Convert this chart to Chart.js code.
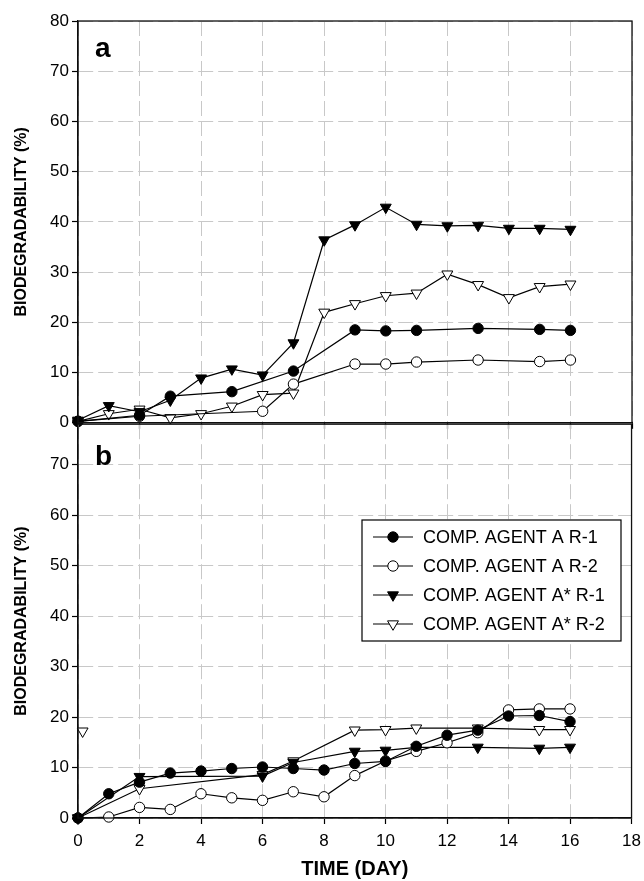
<!DOCTYPE html>
<html>
<head>
<meta charset="utf-8">
<script src="https://cdn.jsdelivr.net/npm/chart.js@4.4.1/dist/chart.umd.min.js"></script>
<style>
body { margin: 0; background: #fff; overflow: hidden; }
#wrap { position: relative; width: 644px; height: 881px; overflow: hidden; }
#chartA { position: absolute; left: 0; top: 0; }
#chartB { position: absolute; left: 0; top: 411px; }
</style>
</head>
<body>
<div id="wrap">
<canvas id="chartA" width="644" height="436"></canvas>
<canvas id="chartB" width="648" height="470"></canvas>
</div>
<script>
// legend labels
seriesLabels = ["COMP. AGENT A R-1", "COMP. AGENT A R-2", "COMP. AGENT A* R-1", "COMP. AGENT A* R-2"];
xTicks = [0, 2, 4, 6, 8, 10, 12, 14, 16, 18];

// panel a
aR1Days = [0, 2, 3, 5, 7, 9, 10, 11, 13, 15, 16];
aR1Vals = [0.3, 1.5, 5.3, 6.2, 10.3, 18.5, 18.3, 18.4, 18.8, 18.6, 18.4];
aR2Days = [0, 2, 6, 7, 9, 10, 11, 13, 15, 16];
aR2Vals = [0.3, 1.3, 2.3, 7.7, 11.7, 11.7, 12.1, 12.5, 12.2, 12.5];
aStarR1Days = [0, 1, 2, 3, 4, 5, 6, 7, 8, 9, 10, 11, 12, 13, 14, 15, 16];
aStarR1Vals = [0.5, 3.4, 2.2, 4.5, 8.9, 10.7, 9.5, 15.9, 36.4, 39.4, 42.9, 39.5, 39.2, 39.3, 38.7, 38.7, 38.5];
aStarR2Days = [0, 1, 2, 3, 4, 5, 6, 7, 8, 9, 10, 11, 12, 13, 14, 15, 16];
aStarR2Vals = [0.3, 1.8, 2.7, 1.0, 1.8, 3.3, 5.6, 5.9, 22.0, 23.7, 25.3, 25.8, 29.6, 27.5, 24.9, 27.1, 27.6];

// panel b
bR1Days = [0, 1, 2, 3, 4, 5, 6, 7, 8, 9, 10, 11, 12, 13, 14, 15, 16];
bR1Vals = [0, 4.8, 7.1, 8.9, 9.3, 9.8, 10.1, 9.8, 9.5, 10.8, 11.2, 14.2, 16.4, 17.4, 20.2, 20.3, 19.1];
bR2Days = [0, 1, 2, 3, 4, 5, 6, 7, 8, 9, 10, 11, 12, 13, 14, 15, 16];
bR2Vals = [0, 0.2, 2.1, 1.7, 4.8, 4.0, 3.5, 5.2, 4.2, 8.4, 11.3, 13.2, 14.9, 16.9, 21.4, 21.6, 21.6];
bStarR1Days = [0, 2, 6, 7, 9, 10, 11, 13, 15, 16];
bStarR1Vals = [0, 8.2, 8.3, 11.0, 13.2, 13.4, 14.0, 14.0, 13.8, 14.0];
bStarR2Days = [0, 2, 6, 7, 9, 10, 11, 13, 15, 16];
bStarR2Vals = [0, 5.8, 8.6, 11.3, 17.4, 17.5, 17.8, 17.8, 17.5, 17.5];
// stray marker near the axis in panel b
bStrayDays = [0.15];
bStrayVals = [17.2];

FONT = "'Liberation Sans', Arial, sans-serif";

function pts(days, vals) {
    return days.map((d, i) => ({x: d, y: vals[i]}));
}

function series(label, days, vals, style, filled) {
    return {
        label: label,
        data: pts(days, vals),
        borderColor: "#000",
        borderWidth: 1.2,
        backgroundColor: filled ? "#000" : "#fff",
        pointBackgroundColor: filled ? "#000" : "#fff",
        pointBorderColor: "#000",
        pointBorderWidth: 1,
        pointStyle: style,
        pointRotation: style === "triangle" ? 180 : 0,
        pointRadius: style === "triangle" ? 6.3 : 5.2,
        tension: 0,
        clip: false
    };
}

const frame = {
    id: "frame",
    afterDraw(chart) {
        const a = chart.chartArea, ctx = chart.ctx;
        ctx.save();
        ctx.strokeStyle = "#111";
        ctx.lineWidth = 1.3;
        ctx.strokeRect(a.left, a.top, a.right - a.left, a.bottom - a.top);
        ctx.restore();
    }
};

const panelLabel = {
    id: "panelLabel",
    afterDraw(chart, args, opts) {
        const ctx = chart.ctx;
        ctx.save();
        ctx.fillStyle = "#000";
        ctx.font = "bold 28px " + FONT;
        ctx.textBaseline = "alphabetic";
        ctx.fillText(opts.text, opts.x, opts.y);
        ctx.restore();
    }
};

const legendBox = {
    id: "legendBox",
    afterDatasetsDraw(chart, args, opts) {
        if (!opts.show) return;
        const ctx = chart.ctx;
        ctx.save();
        ctx.fillStyle = "#fff";
        ctx.fillRect(opts.x, opts.y, opts.w, opts.h);
        ctx.strokeStyle = "#000";
        ctx.lineWidth = 1.2;
        ctx.strokeRect(opts.x, opts.y, opts.w, opts.h);
        chart.data.datasets.filter(d => d.label).forEach((ds, i) => {
            const cy = opts.y + opts.first + i * opts.gap;
            const x0 = opts.x + 11, x1 = x0 + 40;
            ctx.strokeStyle = "#000";
            ctx.lineWidth = 1.2;
            ctx.beginPath();
            ctx.moveTo(x0, cy);
            ctx.lineTo(x1, cy);
            ctx.stroke();
            ctx.fillStyle = ds.pointBackgroundColor;
            ctx.lineWidth = 1;
            Chart.helpers.drawPoint(ctx, {
                pointStyle: ds.pointStyle,
                rotation: ds.pointRotation,
                radius: ds.pointRadius,
                borderWidth: 1
            }, (x0 + x1) / 2, cy);
            ctx.fillStyle = "#000";
            ctx.font = "18px " + FONT;
            ctx.textBaseline = "middle";
            ctx.fillText(ds.label, x1 + 10, cy + 1);
        });
        ctx.restore();
    }
};

function makeOptions(cfg) {
    return {
        responsive: false,
        animation: false,
        devicePixelRatio: 1,
        layout: {padding: {top: cfg.padTop, right: cfg.padRight, left: 0, bottom: 0}},
        plugins: {
            legend: {display: false},
            tooltip: {enabled: false},
            panelLabel: cfg.label,
            legendBox: cfg.legend
        },
        scales: {
            x: {
                type: "linear",
                min: 0,
                max: 18,
                afterBuildTicks: s => { s.ticks = xTicks.map(v => ({value: v})); },
                afterFit: s => { s.height = cfg.xHeight; },
                ticks: {
                    display: cfg.xLabels,
                    color: "#000",
                    padding: 7,
                    font: {family: FONT, size: 17}
                },
                grid: {
                    color: "#c8c8c8",
                    lineWidth: 1,
                    tickLength: 6,
                    tickColor: "#000",
                    tickBorderDash: [],
                    tickWidth: 1.2
                },
                border: {display: true, color: "#000", width: 1.2, dash: [15, 5]},
                title: {
                    display: cfg.xLabels,
                    text: "TIME (DAY)",
                    color: "#000",
                    padding: {top: 0, bottom: 0},
                    font: {family: FONT, size: 20, weight: "bold", lineHeight: 1.2}
                }
            },
            y: {
                min: 0,
                max: cfg.yMax,
                afterFit: s => { s.width = 78; },
                ticks: {
                    stepSize: 10,
                    includeBounds: false,
                    color: "#000",
                    padding: 3,
                    font: {family: FONT, size: 17}
                },
                grid: {
                    color: "#c8c8c8",
                    lineWidth: 1,
                    tickLength: 6,
                    tickColor: "#000",
                    tickBorderDash: [],
                    tickWidth: 1.2
                },
                border: {display: true, color: "#000", width: 1.2, dash: [15, 5]},
                title: {
                    display: true,
                    text: "BIODEGRADABILITY (%)",
                    color: "#000",
                    padding: {top: 12, bottom: 0},
                    font: {family: FONT, size: 16, weight: "bold", lineHeight: 1.2}
                }
            }
        }
    };
}

const chartA = new Chart(document.getElementById("chartA"), {
    type: "line",
    data: {
        datasets: [
            series(seriesLabels[0], aR1Days, aR1Vals, "circle", true),
            series(seriesLabels[1], aR2Days, aR2Vals, "circle", false),
            series(seriesLabels[2], aStarR1Days, aStarR1Vals, "triangle", true),
            series(seriesLabels[3], aStarR2Days, aStarR2Vals, "triangle", false)
        ]
    },
    options: makeOptions({
        padTop: 21, padRight: 12, yMax: 80, xHeight: 7, xLabels: false,
        label: {text: "a", x: 95, y: 57},
        legend: {show: false}
    }),
    plugins: [frame, panelLabel, legendBox]
});

const stray = series("", bStrayDays, bStrayVals, "triangle", false);
stray.showLine = false;

const chartB = new Chart(document.getElementById("chartB"), {
    type: "line",
    data: {
        datasets: [
            series(seriesLabels[0], bR1Days, bR1Vals, "circle", true),
            series(seriesLabels[1], bR2Days, bR2Vals, "circle", false),
            series(seriesLabels[2], bStarR1Days, bStarR1Vals, "triangle", true),
            series(seriesLabels[3], bStarR2Days, bStarR2Vals, "triangle", false),
            stray
        ]
    },
    options: makeOptions({
        padTop: 9, padRight: 16, yMax: 78, xHeight: 63, xLabels: true,
        label: {text: "b", x: 95, y: 54},
        legend: {show: true, x: 362, y: 109, w: 259, h: 121, first: 17, gap: 29}
    }),
    plugins: [frame, panelLabel, legendBox]
});
</script>
</body>
</html>
